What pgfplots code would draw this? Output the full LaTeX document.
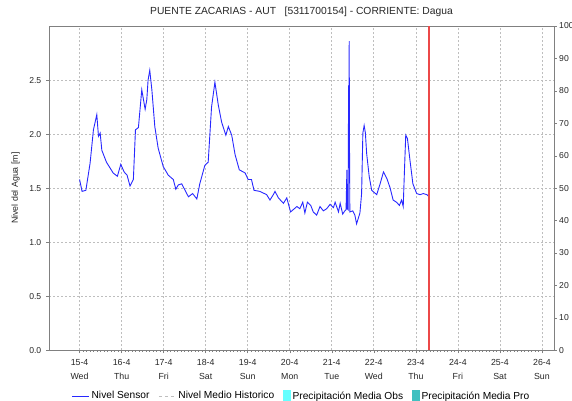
\documentclass[border=0pt]{standalone}
\usepackage{fontspec}
\setmainfont{Liberation Sans}
\usepackage{pgfplots}
\pgfplotsset{compat=1.18}
\usepackage{pgfplotstable}
\definecolor{axgray}{RGB}{128,128,128}
\definecolor{gridgray}{RGB}{190,190,190}
\definecolor{sensor}{RGB}{40,40,255}
\definecolor{obs}{RGB}{100,255,255}
\definecolor{pro}{RGB}{64,192,192}
\definecolor{vline}{RGB}{236,72,72}
\pgfplotstableread{
x y
15.00 1.58
15.06 1.47
15.15 1.48
15.19 1.58
15.25 1.73
15.33 2.04
15.41 2.18
15.45 1.98
15.49 2.01
15.53 1.85
15.64 1.74
15.80 1.64
15.90 1.61
15.98 1.72
16.06 1.65
16.13 1.62
16.20 1.52
16.28 1.58
16.33 2.04
16.40 2.06
16.48 2.41
16.56 2.23
16.60 2.32
16.63 2.50
16.67 2.59
16.72 2.41
16.79 2.07
16.87 1.87
16.99 1.70
17.11 1.62
17.23 1.58
17.29 1.49
17.35 1.53
17.43 1.54
17.51 1.48
17.59 1.42
17.69 1.45
17.79 1.40
17.86 1.54
17.98 1.71
18.06 1.74
18.14 2.25
18.22 2.48
18.30 2.27
18.38 2.11
18.48 1.99
18.54 2.07
18.62 1.99
18.70 1.81
18.80 1.67
18.94 1.64
19.01 1.58
19.09 1.58
19.15 1.48
19.29 1.47
19.45 1.44
19.53 1.39
19.61 1.44
19.65 1.47
19.73 1.41
19.85 1.36
19.93 1.41
20.02 1.28
20.17 1.33
20.24 1.31
20.31 1.37
20.36 1.27
20.42 1.37
20.50 1.34
20.56 1.28
20.64 1.25
20.72 1.33
20.80 1.29
20.88 1.31
20.96 1.35
21.04 1.32
21.08 1.37
21.16 1.28
21.20 1.36
21.26 1.26
21.31 1.29
21.34 1.30
21.36 1.67
21.37 1.31
21.39 1.30
21.40 2.45
21.41 2.07
21.415 2.86
21.42 2.07
21.43 1.28
21.50 1.29
21.55 1.25
21.59 1.17
21.67 1.27
21.71 1.45
21.74 2.01
21.77 2.08
21.80 2.01
21.83 1.82
21.89 1.61
21.95 1.48
22.07 1.44
22.15 1.54
22.23 1.65
22.31 1.59
22.39 1.50
22.46 1.39
22.54 1.37
22.61 1.34
22.66 1.39
22.70 1.33
22.73 1.67
22.76 1.99
22.80 1.96
22.86 1.76
22.93 1.54
23.02 1.45
23.10 1.44
23.18 1.45
23.26 1.44
23.32 1.42
}\sensortable
\pgfplotstableread{
x y
23.32 0
23.32 100
}\nowtable
\begin{document}
\begin{tikzpicture}
\useasboundingbox (-49.3bp,-50.7bp) rectangle (522.7bp,350.3bp);
\begin{axis}[
  at={(0,0)}, anchor=south west,
  scale only axis, width=504.4bp, height=324.3bp,
  xmin=14.28, xmax=26.28, ymin=0, ymax=3,
  font=\fontsize{8.8bp}{13bp}\selectfont,
  /pgf/number format/assume math mode=true,
  /pgf/number format/fixed, /pgf/number format/fixed zerofill,
  /pgf/number format/precision=1,
  axis line style={axgray},
  every tick/.style={axgray},
  tick align=outside, major tick length=3bp, minor tick length=1.5bp,
  xtick={15,...,26},
  xticklabels={{15-4\\Wed},{16-4\\Thu},{17-4\\Fri},{18-4\\Sat},{19-4\\Sun},{20-4\\Mon},{21-4\\Tue},{22-4\\Wed},{23-4\\Thu},{24-4\\Fri},{25-4\\Sat},{26-4\\Sun}},
  xticklabel style={align=center, text=black!85, font=\fontsize{8.8bp}{13.5bp}\selectfont, yshift=-3bp},
  minor x tick num=11,
  xtick pos=bottom, ytick pos=left,
  ytick={0,0.5,...,2.5},
  yticklabel style={text=black!85, xshift=-1.5bp, font=\fontsize{8.6bp}{10bp}\selectfont},
  grid=major,
  major grid style={gridgray, dash pattern=on 2bp off 2bp, line width=0.6bp},
  ylabel={Nivel del Agua [m]},
  ylabel style={at={(rel axis cs:0,0.5)}, anchor=south, yshift=26bp, text=black!85, font=\fontsize{8.8bp}{10bp}\selectfont},
  title={PUENTE ZACARIAS - AUT \ \ [5311700154] - CORRIENTE: Dagua},
  title style={at={(0.5,1)}, anchor=base, yshift=6bp, text=black!85, font=\fontsize{10.3bp}{12bp}\selectfont},
  legend style={at={(0.5,-0.141)}, anchor=center, draw=none, fill=none,
    legend columns=4, font=\fontsize{10.2bp}{12bp}\selectfont,
    /tikz/every even column/.append style={column sep=7bp}},
  legend cell align=left,
]
\addplot[sensor, line width=0.9bp] table[x=x,y=y] {\sensortable};
\addlegendentry{Nivel Sensor}
\addlegendimage{gridgray, line width=1bp, dash pattern=on 3bp off 3bp}
\addlegendentry{Nivel Medio Historico}
\addlegendimage{legend image code/.code={\fill[obs] (0bp,-6bp) rectangle (7bp,6bp);}}
\addlegendentry{Precipitación Media Obs}
\addlegendimage{legend image code/.code={\fill[pro] (0bp,-6bp) rectangle (7bp,6bp);}}
\addlegendentry{Precipitación Media Pro}
\end{axis}
\begin{axis}[
  at={(0,0)}, anchor=south west,
  scale only axis, width=504.4bp, height=324.3bp,
  xmin=14.28, xmax=26.28, ymin=0, ymax=100,
  font=\fontsize{8.6bp}{10bp}\selectfont,
  /pgf/number format/assume math mode=true,
  axis x line=none, axis y line*=right,
  axis line style={axgray, -},
  every tick/.style={axgray},
  tick align=outside, major tick length=3bp,
  ytick={0,10,...,100},
  yticklabel style={text=black!85, xshift=-1bp},
]
\addplot[draw=vline, line width=1.6bp, mark=none] table[x=x,y=y] {\nowtable};
\end{axis}
\end{tikzpicture}
\end{document}
